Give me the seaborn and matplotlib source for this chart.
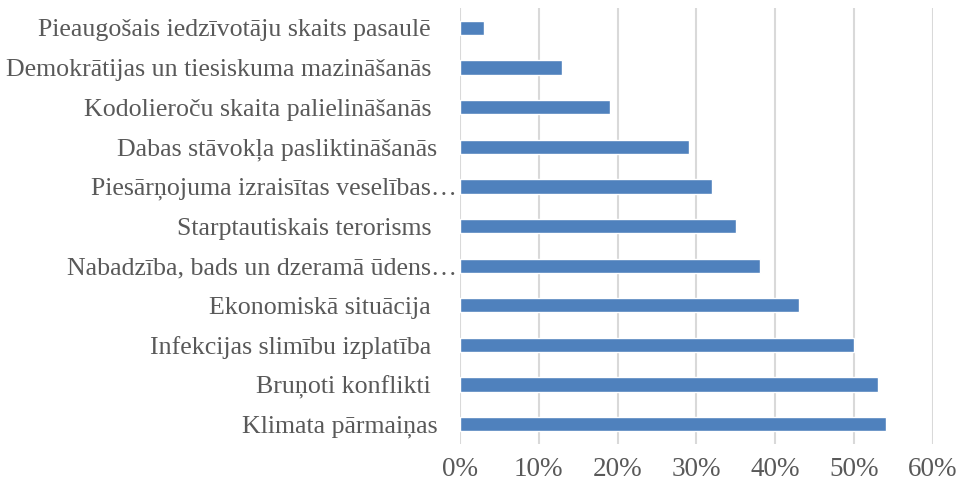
import matplotlib
matplotlib.use("Agg")
import matplotlib.pyplot as plt
import seaborn as sns
import pandas as pd
from matplotlib.ticker import PercentFormatter

categories = [
    "Pieaugošais iedzīvotāju skaits pasaulē    ",
    "Demokrātijas un tiesiskuma mazināšanās    ",
    "Kodolieroču skaita palielināšanās    ",
    "Dabas stāvokļa pasliktināšanās   ",
    "Piesārņojuma izraisītas veselības…",
    "Starptautiskais terorisms    ",
    "Nabadzība, bads un dzeramā ūdens…",
    "Ekonomiskā situācija    ",
    "Infekcijas slimību izplatība    ",
    "Bruņoti konflikti    ",
    "Klimata pārmaiņas   ",
]
values = [3, 13, 19, 29, 32, 35, 38, 43, 50, 53, 54]
xticks = [0, 10, 20, 30, 40, 50, 60]

df = pd.DataFrame({"cat": categories, "val": values})

sns.set_theme(style="white")
plt.rcParams["font.family"] = ["Liberation Serif", "DejaVu Serif"]

fig = plt.figure(figsize=(9.6, 4.86), dpi=100)
ax = fig.add_axes([0.479, 0.0864, 0.493, 0.897])
sns.barplot(data=df, x="val", y="cat", color="#4f81bd", saturation=1,
            width=0.36, ax=ax, orient="h")
ax.set_xlim(0, 60)
ax.set_xticks(xticks)
ax.xaxis.set_major_formatter(PercentFormatter(decimals=0))
ax.grid(axis="x", color="#d9d9d9", linewidth=1.5)
ax.set_axisbelow(True)
for s in ax.spines.values():
    s.set_visible(False)
ax.set_xlabel("")
ax.set_ylabel("")
ax.tick_params(axis="both", length=0, labelcolor="#595959")
ax.tick_params(axis="y", labelsize=18.6, pad=2)
ax.tick_params(axis="x", labelsize=19.5, pad=9)
fig.savefig("out.png", dpi=100)
